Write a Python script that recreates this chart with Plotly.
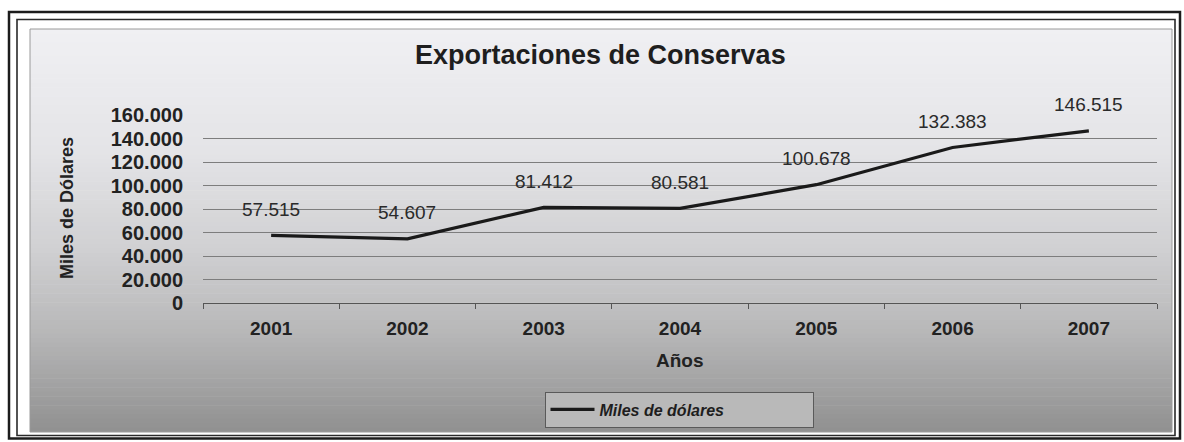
import plotly.graph_objects as go

# Export values (thousands of US dollars)
years = ["2001", "2002", "2003", "2004", "2005", "2006", "2007"]
exports = [57515, 54607, 81412, 80581, 100678, 132383, 146515]
y_ticks = [0, 20000, 40000, 60000, 80000, 100000, 120000, 140000, 160000]
y_tick_text = ["0", "20.000", "40.000", "60.000", "80.000", "100.000", "120.000", "140.000", "160.000"]

W, H = 1184, 442
PL, PR, PT, PB = 203, 1157, 115, 303  # plot area in pixels


def px(x):
    return (x - PL) / (PR - PL)


def py(y):
    return (PB - y) / (PB - PT)


def fmt(v):
    return f"{v:,}".replace(",", ".")


FONT = "Liberation Sans, Arial, sans-serif"

fig = go.Figure()
fig.add_trace(go.Scatter(
    x=years, y=exports, mode="lines", name="Miles de dólares",
    line=dict(color="#1a1a1a", width=3.2),
))

shapes = []
# vertical gray gradient of the chart panel
top, bottom = 29, 432
stops = [(29, (240, 240, 243)), (150, (228, 228, 231)), (250, (208, 208, 210)),
         (330, (184, 184, 185)), (432, (144, 144, 144))]


def col_at(y):
    for (y0, c0), (y1, c1) in zip(stops[:-1], stops[1:]):
        if y0 <= y <= y1:
            t = (y - y0) / (y1 - y0)
            return "rgb(%d,%d,%d)" % tuple(round(a + (b - a) * t) for a, b in zip(c0, c1))
    return "rgb(%d,%d,%d)" % stops[-1][1]


n = 90
step = (bottom - top) / n
for i in range(n):
    ya = top + i * step
    yb = ya + step + 0.6
    shapes.append(dict(type="rect", xref="paper", yref="paper", layer="below",
                       x0=px(30), x1=px(1172), y0=py(ya), y1=py(min(yb, bottom)),
                       line=dict(width=0), fillcolor=col_at(ya + step / 2)))
# panel edge and the double outer frame
shapes.append(dict(type="rect", xref="paper", yref="paper", layer="below",
                   x0=px(30), x1=px(1172), y0=py(29), y1=py(432),
                   line=dict(color="#9a9a9a", width=1), fillcolor="rgba(0,0,0,0)"))
shapes.append(dict(type="rect", xref="paper", yref="paper",
                   x0=px(9), x1=px(1180), y0=py(12), y1=py(438.5),
                   line=dict(color="#1c1c1c", width=2.5), fillcolor="rgba(0,0,0,0)"))
shapes.append(dict(type="rect", xref="paper", yref="paper",
                   x0=px(17), x1=px(1175), y0=py(19.5), y1=py(435.5),
                   line=dict(color="#2a2a2a", width=1.6), fillcolor="rgba(0,0,0,0)"))

annotations = []
# value labels above each point (category index as x position)
for i, v in enumerate(exports):
    annotations.append(dict(x=i, y=v, xref="x", yref="y", text=fmt(v), showarrow=False,
                            yshift=26, font=dict(family=FONT, size=19, color="#2a2a2a")))
# chart title
annotations.append(dict(xref="paper", yref="paper", x=px(600), y=py(55),
                        text="<b>Exportaciones de Conservas</b>", showarrow=False,
                        xanchor="center", yanchor="middle",
                        font=dict(family=FONT, size=27, color="#1e1e1e")))
# axis titles
annotations.append(dict(xref="paper", yref="paper", x=px(67), y=py(208),
                        text="<b>Miles de Dólares</b>", showarrow=False, textangle=-90,
                        xanchor="center", yanchor="middle",
                        font=dict(family=FONT, size=18, color="#222")))
annotations.append(dict(xref="paper", yref="paper", x=px(680), y=py(360),
                        text="<b>Años</b>", showarrow=False,
                        xanchor="center", yanchor="middle",
                        font=dict(family=FONT, size=19, color="#222")))

fig.update_layout(
    width=W, height=H,
    margin=dict(l=PL, r=W - PR, t=PT, b=H - PB),
    paper_bgcolor="white", plot_bgcolor="rgba(0,0,0,0)",
    separators=",.",
    shapes=shapes, annotations=annotations,
    showlegend=True,
    legend=dict(
        orientation="h", xref="container", yref="container",
        x=679 / W, xanchor="center", y=(H - 409.5) / H, yanchor="middle",
        bgcolor="#b9b9b9", bordercolor="#5a5a5a", borderwidth=1,
        itemwidth=44, entrywidth=208, tracegroupgap=0,
        font=dict(family=FONT, size=16, color="#1e1e1e", weight="bold", style="italic"),
    ),
    xaxis=dict(
        type="category", range=[-0.5, 6.5],
        showgrid=False, showline=True, linecolor="#555", linewidth=1.2,
        ticks="outside", tickson="boundaries", ticklen=5, tickcolor="#555",
        ticklabelstandoff=8,
        tickfont=dict(family=FONT, size=19, color="#222", weight="bold"),
    ),
    yaxis=dict(
        range=[0, 160000], tickvals=y_ticks, ticktext=y_tick_text,
        showgrid=True, gridcolor="#7d7d7d", gridwidth=1,
        zeroline=False, showline=False, ticks="",
        ticklabelstandoff=19,
        tickfont=dict(family=FONT, size=20, color="#222", weight="bold"),
    ),
)

fig.write_html("out.html")
